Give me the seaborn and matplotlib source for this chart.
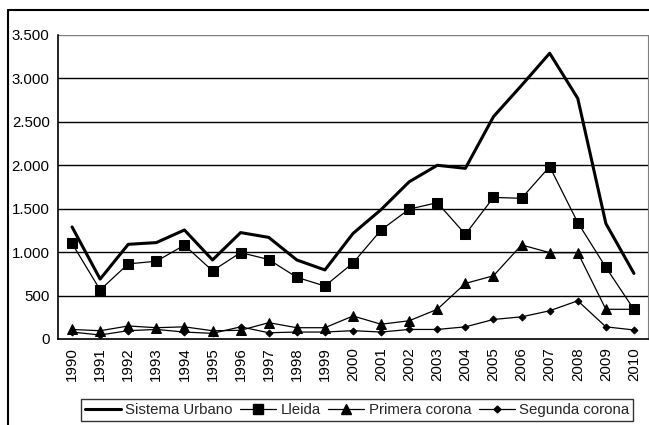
import numpy as np
import pandas as pd
import matplotlib
matplotlib.use("Agg")
import matplotlib.pyplot as plt
import seaborn as sns
from matplotlib.lines import Line2D
from matplotlib.ticker import FuncFormatter

# ── Data ──────────────────────────────────────────────────────
years = list(range(1990, 2011))
sistema_urbano = [1290, 690, 1090, 1110, 1255, 910, 1225, 1170, 910, 795,
                  1215, 1490, 1810, 2000, 1965, 2560, 2920, 3290, 2770, 1330, 755]
lleida = [1100, 565, 865, 895, 1080, 785, 995, 915, 710, 610,
          875, 1255, 1495, 1570, 1205, 1630, 1620, 1985, 1340, 825, 340]
primera_corona = [110, 95, 150, 130, 140, 95, 100, 188, 130, 130,
                  265, 170, 210, 342, 640, 728, 1083, 994, 994, 342, 342]
segunda_corona = [80, 46, 96, 110, 80, 65, 140, 72, 80, 80,
                  96, 80, 110, 110, 140, 225, 255, 325, 440, 140, 104]

series_names = ["Sistema Urbano", "Lleida", "Primera corona", "Segunda corona"]
y_ticks = [0, 500, 1000, 1500, 2000, 2500, 3000, 3500]

# ── Style ─────────────────────────────────────────────────────
FS = 10.8
sns.set_style("white")
plt.rcParams["font.family"] = ["Liberation Sans", "DejaVu Sans"]
plt.rcParams["font.size"] = FS

fig = plt.figure(figsize=(6.49, 4.25), dpi=100)
ax = fig.add_axes([58 / 649, 1 - 339 / 425, 590 / 649, 304 / 425])

pos = np.arange(len(years))
styles = [
    dict(marker=None, lw=2.2, ms=0),
    dict(marker="s", lw=0.9, ms=6.5),
    dict(marker="^", lw=0.9, ms=6.5),
    dict(marker="D", lw=0.9, ms=3.5),
]
for name, vals, st in zip(series_names,
                          [sistema_urbano, lleida, primera_corona, segunda_corona],
                          styles):
    sns.lineplot(x=pos, y=vals, ax=ax, color="black", lw=st["lw"],
                 marker=st["marker"], markersize=st["ms"],
                 markeredgecolor="black", markerfacecolor="black",
                 label=name, legend=False)

ax.set_xlim(-0.5, len(years) - 0.5)
ax.set_ylim(0, 3500)
ax.set_yticks(y_ticks)
ax.yaxis.set_major_formatter(FuncFormatter(lambda v, _: f"{int(v):,}".replace(",", ".")))
for t in y_ticks[1:]:
    ax.axhline(t, color="black" if t < 3500 else "#7f7f7f", lw=1, zorder=0)

ax.set_xticks(pos)
ax.set_xticklabels([str(y) for y in years], rotation=90)
ax.set_xticks(np.arange(-0.5, len(years)), minor=True)
ax.tick_params(axis="x", which="major", length=0, pad=6)
ax.tick_params(axis="x", which="minor", length=5, width=1, color="black", direction="out")
ax.tick_params(axis="y", length=4, width=1, color="black", direction="out", pad=2)
ax.tick_params(axis="both", labelsize=FS, labelcolor="black")

for side in ["left", "bottom"]:
    ax.spines[side].set_color("black")
    ax.spines[side].set_linewidth(1.2)
ax.spines["right"].set_color("#7f7f7f")
ax.spines["top"].set_visible(False)
ax.set_xlabel("")
ax.set_ylabel("")

# outer frame lines
fig.add_artist(Line2D([8 / 649, 8 / 649], [0, 1 - 10 / 425], color="black", lw=1.5))
fig.add_artist(Line2D([8 / 649, 1], [1 - 10 / 425, 1 - 10 / 425], color="black", lw=1.5))

# legend
handles = [
    Line2D([0], [0], color="black", lw=2.2),
    Line2D([0], [0], color="black", lw=0.9, marker="s", ms=6.5),
    Line2D([0], [0], color="black", lw=0.9, marker="^", ms=6.5),
    Line2D([0], [0], color="black", lw=0.9, marker="D", ms=3.5),
]
leg = fig.legend(handles, series_names, loc="center", ncol=4,
                 bbox_to_anchor=(357 / 649, 1 - 410 / 425),
                 frameon=True, fancybox=False, edgecolor="black",
                 handlelength=2.4, handletextpad=0.3, columnspacing=0.5,
                 borderpad=0.25, fontsize=FS)
leg.get_frame().set_linewidth(1)

fig.savefig("out.png", dpi=100)
